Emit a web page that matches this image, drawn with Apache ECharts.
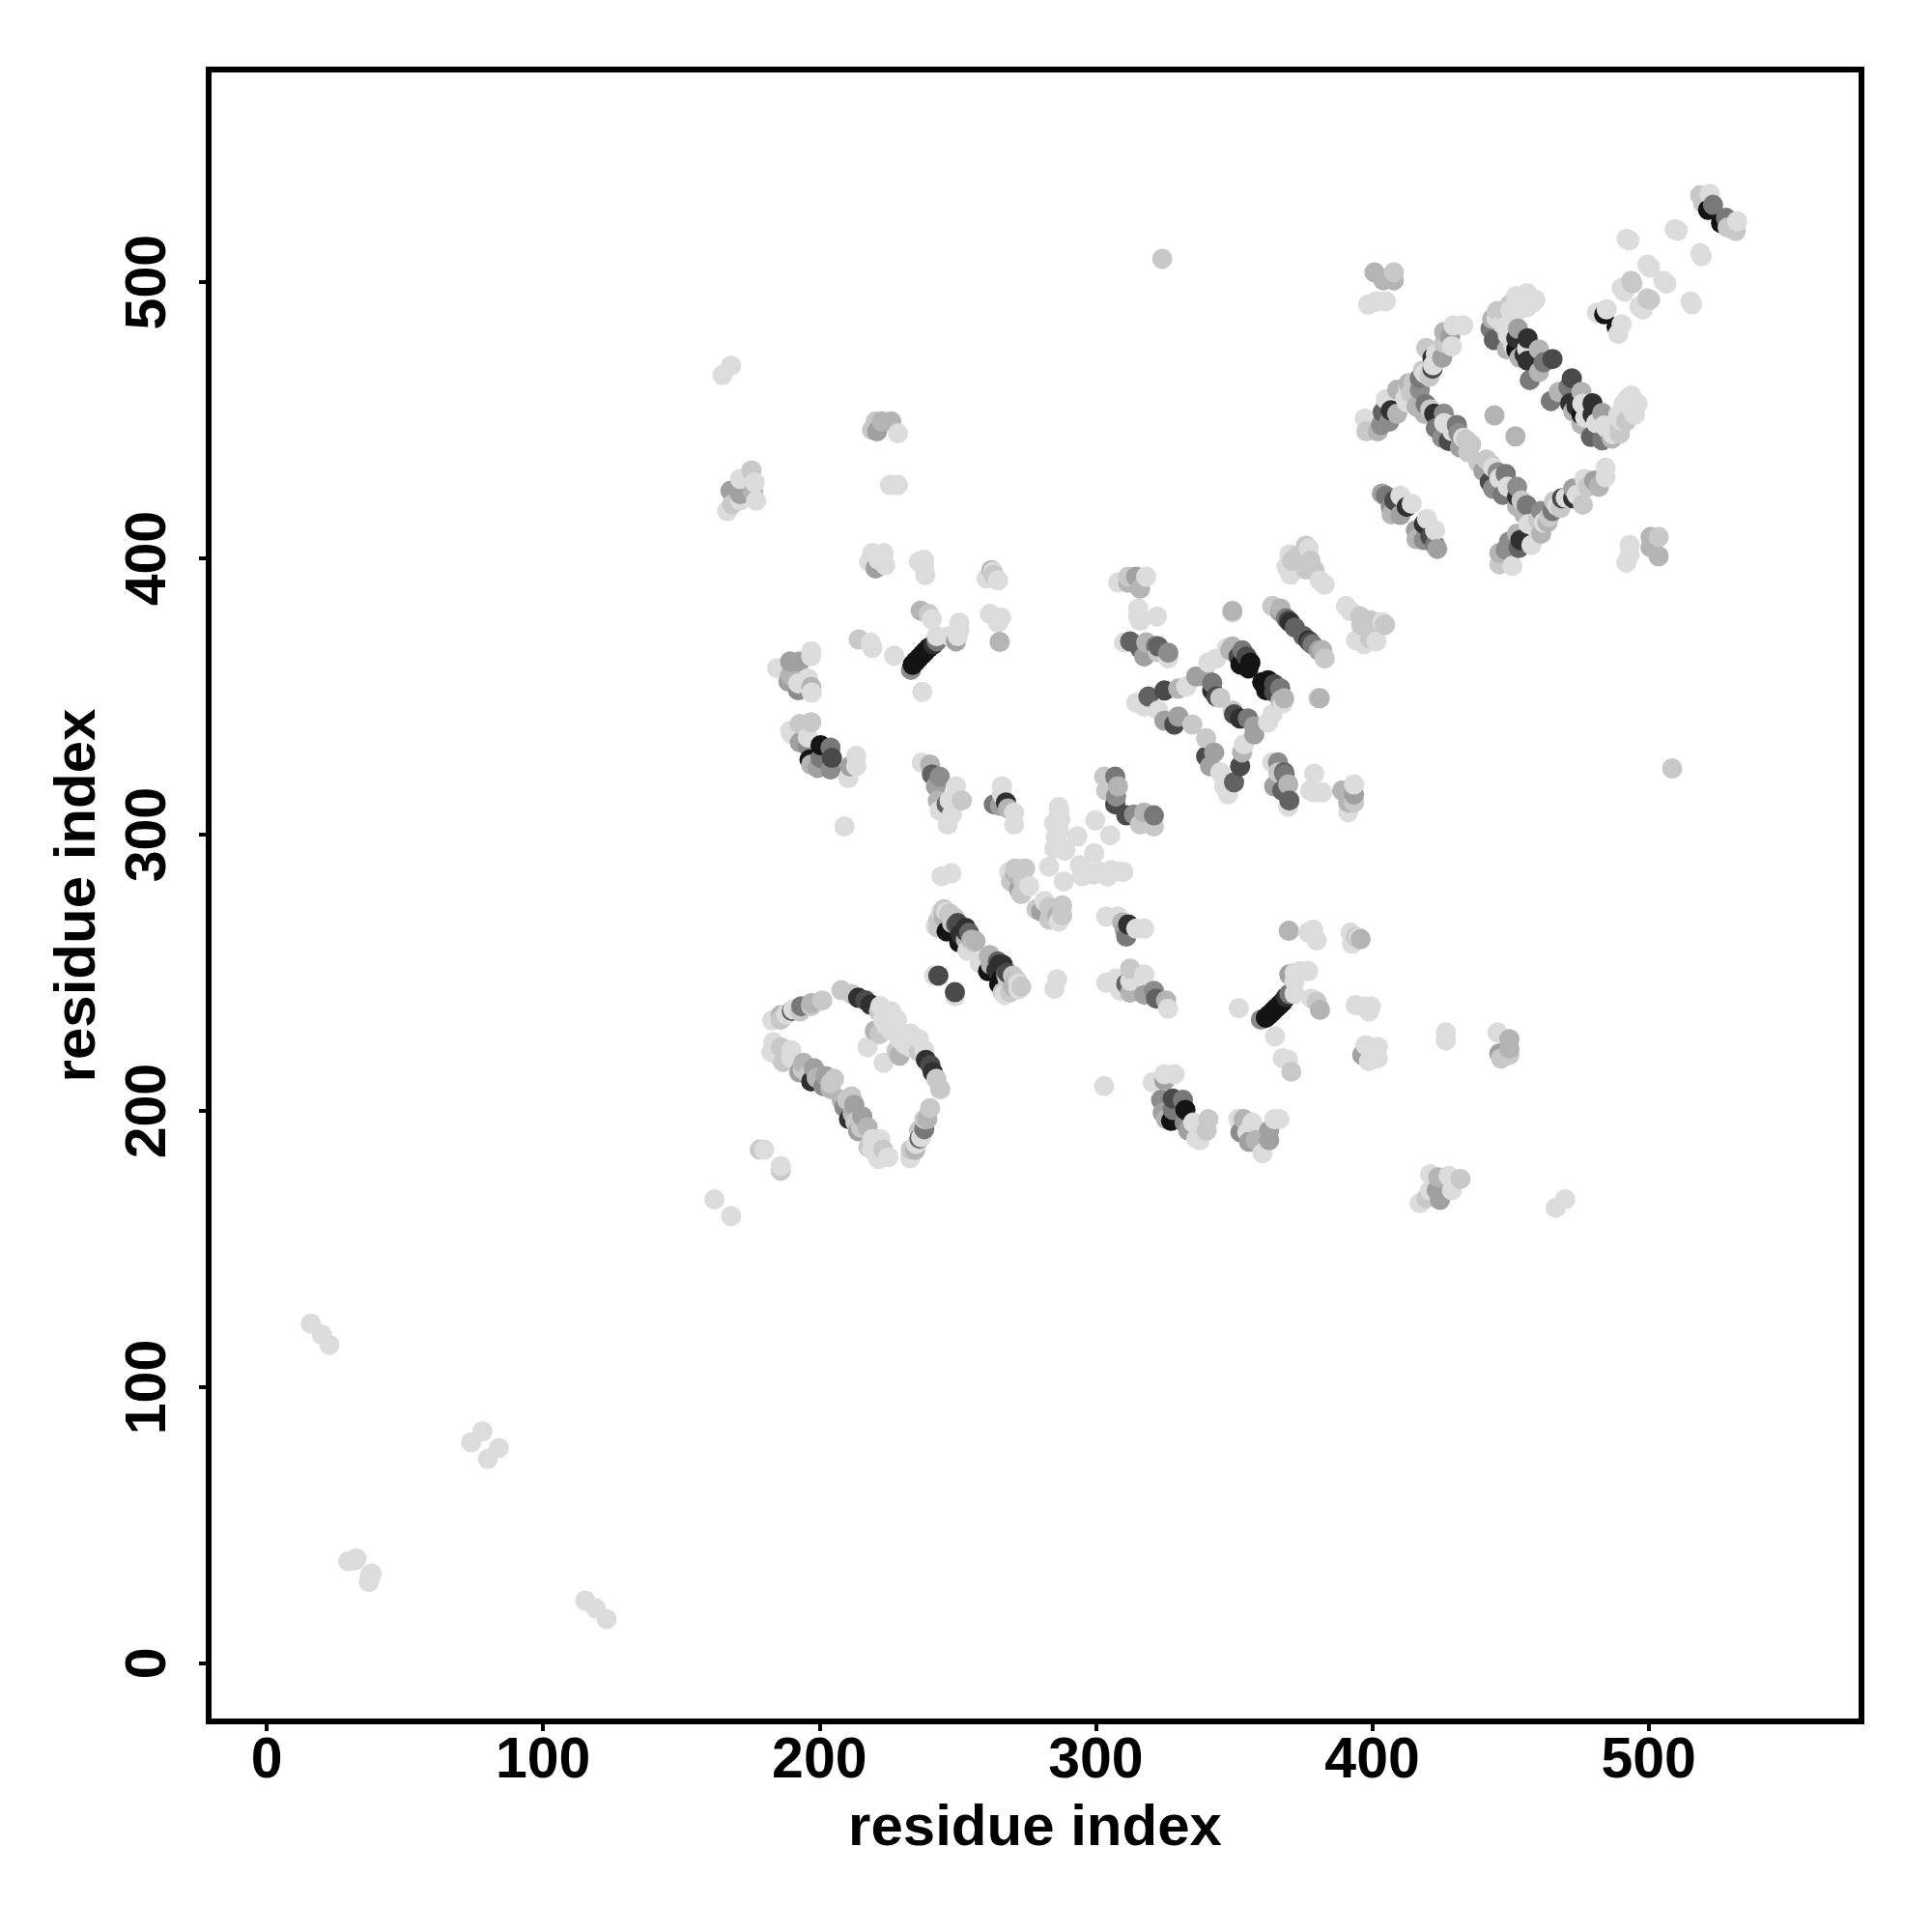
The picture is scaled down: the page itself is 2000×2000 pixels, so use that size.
<!DOCTYPE html>
<html><head><meta charset="utf-8">
<style>html,body{margin:0;padding:0;background:#fff}#c{width:2000px;height:2000px}</style>
<script src="https://cdn.jsdelivr.net/npm/echarts@6/dist/echarts.min.js"></script>
</head><body><div id="c"></div>
<script>
// Tick labels and axis title
const tickValues = [0, 100, 200, 300, 400, 500];
const axisTitle = 'residue index';
// Contact map: every array holds [residue i, residue j, darkness 0-9], i > j. The map is symmetric.
const farContacts = [[115.3,22.7,0],[119,20,0],[123,16,0],[37.4,32,0],[38,32.5,0],[37,29.5,0],[80,74,0],[84,78,0],[168,162,0],[186,180,0],[186,178.4,1],[469.8,168,0],[466.4,164.9,0],[508.5,324,1]];
const domainA = [[232.8,182.9,0],[234.6,185.9,2],[236.2,190,6],[236.8,190.5,0],[237.9,193.4,5],[239,197,2],[240,201,1],[233,186,1],[235,188,0],[236,193,1],[238,197,1],
 [224.9,183.3,0],[221.3,182.6,0],[222,189.8,0],[219.1,189.8,0],[217.7,186.9,1],[217.4,194.2,2],[215.5,198,3],[212.6,202.2,3],[211.6,205.3,1],[209,201.4,4],[210.7,197,8],[214,192.7,3],[219,186,0],[215,194,1],[212,199,2],[210,204,1],[208,204,2],[223,186,1],[213,196,1],
 [242.3,211.6,1],[240.1,216.6,7],[241,214,8],[238.5,218.5,8],[243.7,207.9,1],[235,225.4,0],[233,223,0],[236,221.5,1],[227.8,221.7,1],[223.2,217.4,0],[229,220,2],[238,222,0],[233,228,0],[236,226,0],[231,224,0],[229,226,0],
 [249,243,7],[249,241.5,0]];
const strandB = [[258,253.5,0],[261,256,1],[261.6,256.4,2],[262,255,2],[261,250.6,9],[264.5,254.1,6],[265,253,8],[264,251,8],[265,246,9],[266,248,9],[266.3,252.9,8],[267.4,249.4,6],[268,250,7],[266.3,243,1],[267,242,0],[270,245,2],[271,247,2],[271.5,244.8,2],[271.5,247.1,1],[272,244,0],[285,244.2,0],[286,247.7,0],[262,253,2],[268,248,1],[270,249,1],[272,246,0],[273,245,1],[269,243,1]];
const centerC = [[278.5,273,1],[281.4,275.9,0],[280.2,272.2,3],[283.1,273.7,1],[283.1,269.3,1],[286,270.8,2],[287.8,274.4,1],[287.8,270.8,1],[286.6,268.6,0],
 [308.7,286.7,0],[305.2,286,0],[302.3,286,0],[299.4,286,0],[295,285,0],[310,286.6,0],[305.6,287.2,0],[304.2,284.9,0],[301.3,286.6,0],[299,285.5,0],[294.7,288.4,0],
 [305.2,299.8,0],[299.4,293.3,0],[294.2,288.9,0],[288.4,283.1,0],
 [311,307,7],[313.8,307.3,4],[317.5,308,2],[321,307,5],[316,303.7,1],[321,303,1]];
const clusterD = [[303.7,270.4,0],[308,270.4,0],[309.5,268.2,2],[310.5,265.3,3],[311,263.1,5],[311.7,267.5,8],[314.6,266,0],[317.5,266,0],
 [303.7,246.4,0],[307.3,247.9,0],[308.8,243.5,0],[311,246,6],[312.4,242.8,2],[312.4,251.5,1],[312.4,247.1,0],[317.5,242.1,3],[317.5,249.4,0],[321,243.5,4],[321.8,240.7,6],[325.4,240,2],[326.1,237,0],
 [303,209,0]];
const clusterE = [[320.5,210.4,0],[323.6,204,4],[324.2,199.3,3],[324.8,211,3],[324.8,213.3,0],[325.4,197,2],[327.2,196.4,9],[327.8,200.4,5],[327.8,204.5,7],[328.5,213.3,0],[331.5,204,5],[332.1,195.8,4],[332.4,200.4,9],[333.4,192.9,3],[335.2,195.8,0],[336.4,190,0],[337.6,189.4,0],[340.1,192.9,1],[340.7,197,1],
 [351.5,197.2,0],[352.3,192.3,4],[353.5,197,2],[354.8,192.3,0],[355.4,188.8,3],[356.6,195.8,0],[357.8,189.4,2],[360.3,184.7,0],[362.7,189.4,3],[362.7,192.9,3],[364.6,197,0],[366.4,197,0]];
const strandF = [[351.7,237.2,0],[359.7,233.1,4],[361.5,233.7,9],[362.7,234.8,9],[364,236,9],[365.2,237.2,9],[366.4,238.3,9],[367.6,239.5,9],[368.8,241.2,8],[370,242.4,5],[371.9,242.4,0],[370,249.4,3],[371.9,250,0],[371.9,247,0],[374,250.6,0],[376.8,250.6,0],[378,240.7,0],[379.9,239.5,1],[381.1,236.6,2],
 [364.8,227,0],[367.6,219.1,0],[369.5,218.5,0],[370.7,214.2,1]];
const clusterG = [[369.8,265.2,2],[376.8,264.6,0],[378.6,265.7,0],[379.9,261.7,0],[392.1,264.6,0],[394,263,1],[395.2,262.8,0],[395.8,262.2,2],[392.7,260.5,0],
 [394,238.3,0],[397,237.8,0],[399.5,237.8,0],[398.8,236,0],
 [397.6,223.8,0],[402,223.2,0],[396.4,220.3,3],[398.8,218,0],[402,219.1,0],[399.5,221.4,0],
 [426.6,228.4,0],[426.6,225.5,0],
 [445.3,228.4,0],[449.6,226,2],[449.6,222.6,2],[446,220.8,3],[449.6,220.3,1],[446.6,219,1],
 [420.9,177.1,0],[423.9,176,2],[427.6,176.5,0],[431.9,175.4,1],[420.9,171.3,0],[423.3,171.3,3],[424.5,167.8,3],[428.8,171.3,0],[417.2,166.6,0],[419.6,168.4,1]];
const latticeH = [[389.1,316,2],[393.4,318.2,0],[393.4,314.6,3],[391.3,311.7,2],[391.3,308.1,0],[393.4,311.7,1],
 [363.8,326.2,0],[365.9,326.2,4],[368.1,322.6,6],[364.5,317.5,3],[369.6,318.2,2],[367.4,316,6],[370,312.4,6],[369.6,310.2,0],[368.3,321.8,5],[366,322.5,1],
 [379,322.1,0],[379,315.3,0],[381.9,315.3,0],[377.5,316,0],[381,349.4,2],[380.4,349.4,0],
 [360.2,355.2,9],[362.3,355.9,9],[364.5,354.5,7],[366.7,353,5],[368.1,349.4,2],[361.6,352.3,9],[364.5,351.6,7],[366.8,348.6,2],[367.6,347.5,0],
 [376.9,370.3,8],[375,372,6],[377.5,369.7,7],[378.4,368.8,5],[380.6,366.7,3],[381.9,366.8,2],[382.8,363.8,1],
 [390.5,382.8,0],[392,381,0],[395.6,379.1,1],[396,376,1],[399.2,377.7,1],[401,373,1],[403.6,377,0],[404.6,376,1],[394.2,370.4,0],[399.2,371,1],[397,369,0],[401.5,370,0],
 [339.9,334.9,1],[342.8,329.8,3],[339.9,328.4,7],[341.3,324.8,3],[345,322.6,0],[346.4,317.5,0],[353.6,332.7,0],[352.9,329.8,2],[352.2,324.8,7],[350,319,6],[347.8,314.6,0],
 [349.5,345,1],[350,343.6,7],[352.2,342.1,8],[355,342.1,5],[357.3,339.3,3],[357.3,336.3,3],[362.3,340.7,0],[363.8,343.6,0]];
const strandT3 = [[415.8,410.2,3],[416,407,2],[418.7,412.5,8],[419.8,414.3,0],[418.7,406.7,4],[421,408,7],[422.7,410.2,0],[422.7,404.9,5],[423.5,403.5,3]];
const strandT4 = [[438.4,434.7,1],[441.3,435.8,1],[440.2,431.7,3],[443.7,432.9,0],[442.5,427.7,7],[445.4,431.2,4],[443.7,425.3,4],[448.3,430.6,5],[448.3,427.7,0],[447.2,423,5],[452.4,425.9,4],[452.4,422.4,8],[452.4,418.9,2],[455.9,419.3,5],[451.8,444.2,2],[443,434,1],[446,429,0],[449,426,0],[454,421,1],[455,416,2]];
const strandT5 = [[446,402,2],[446,397.9,1],[449.5,406.1,4],[448.3,403.2,4],[453,403.8,6],[450.7,397.3,0],[452.4,409,2],[453.6,406.7,8],[457.6,404.9,0],[456.5,412.5,0],[461.1,409,2],[461.1,417.2,4],[463.4,413.1,2],[465.2,417.2,5],[465.8,420.7,1],[468.7,421.8,7],[468.1,418.3,1],[472.7,425.3,3],[472.7,421.8,8],[476.2,419.5,1],[476.8,428.8,0],[480.3,428.2,3],[484.4,432.9,0],[484.4,429.4,0],[458,412,0],[460,414,1],[462,413,0],[464,415,1],[467,419,0],[470,422,0],[474,423,0],[478,426,1],[482,426,2]];
const strandT7 = [[464.6,457,5],[467.5,460.3,2],[472.2,465.2,7],[471,462,5],[471.6,456.2,8],[475.7,460.3,2],[473.9,455.1,8],[472.7,453.3,2],[479.7,456.2,8],[475.7,452.1,9],[479.7,452.1,8],[475.7,448.7,2],[479.1,444,6],[483.2,452.7,3],[483.8,448.1,0],[483.2,442.8,5],[486.7,443.4,2],[489.6,447.5,1],[492.5,458,0],[493.7,459,0],[493.7,454.5,0],[491.9,449.8,1],[489.6,445.2,1],[476,456,0],[477,451,0],[481,449,0],[485,447,0],[487,445,0],[490,450,0],[491,454,0],[489,452,0],[491,456,0],[495,452,0],[496,456,0]];
const topRight = [[518.7,510.5,0],[505.3,500.5,0],[499.5,494.1,1],[496.6,491.2,0],[515.2,493,0],[506.4,499.5,0],[500.5,493.7,1],[497.9,490.2,0],[515.7,492,0],[519.2,509.4,0],
 [489,481.3,0],[488.4,483.9,9],[490.2,484.8,0],[528,523.3,5],[526.2,521.5,9],[532,522.1,0],[528.6,519.8,1],[531.5,518.6,1],
 [493.1,404.9,0],[493.1,401.4,0],[491.9,398.5,0],[500.7,407.8,2],[503.6,407.8,1],[503.6,400.8,2],[500.7,404,2]];

const lowerContacts = [].concat(farContacts, domainA, strandB, centerC, clusterD, clusterE, strandF, clusterG, latticeH, strandT3, strandT4, strandT5, strandT7, topRight);
const upperContacts = lowerContacts.map(([i, j, d]) => [j, i, d]);
const contacts = lowerContacts.concat(upperContacts).sort((a, b) => a[0] - b[0] || a[1] - b[1]);

const font = '"Liberation Sans", Arial, sans-serif';
const chart = echarts.init(document.getElementById('c'), null, {renderer: 'canvas'});
const axisBase = {
  type: 'value', min: -21, max: 577, name: axisTitle, nameLocation: 'middle',
  nameTextStyle: {fontFamily: font, fontWeight: 'bold', fontSize: 60, color: '#000'},
  axisLine: {show: false, onZero: false}, splitLine: {show: false},
  axisTick: {show: true, length: 10, inside: false, customValues: tickValues, lineStyle: {color: '#000', width: 4}}
};
chart.setOption({
  animation: false, backgroundColor: '#fff',
  grid: {left: 216, right: 73, top: 72, bottom: 218, show: true, borderColor: '#000', borderWidth: 6, backgroundColor: '#fff'},
  visualMap: {show: false, type: 'continuous', dimension: 2, min: 0, max: 9, seriesIndex: 0, inRange: {color: ['#dcdcdc', '#c8c8c8', '#b4b4b4', '#a0a0a0', '#8c8c8c', '#787878', '#626262', '#4a4a4a', '#303030', '#141414']}},
  xAxis: Object.assign({}, axisBase, {nameGap: 81,
    axisLabel: {customValues: tickValues, margin: 12, fontFamily: font, fontWeight: 'bold', fontSize: 59, color: '#000'}}),
  yAxis: Object.assign({}, axisBase, {nameGap: 105,
    axisLabel: {customValues: tickValues, rotate: 90, margin: 32, fontFamily: font, fontWeight: 'bold', fontSize: 59, color: '#000', align: 'center', verticalAlign: 'bottom'}}),
  series: [{type: 'scatter', data: contacts, symbol: 'circle', symbolSize: 21, silent: true, itemStyle: {opacity: 1}, clip: true}]
});
</script></body></html>
